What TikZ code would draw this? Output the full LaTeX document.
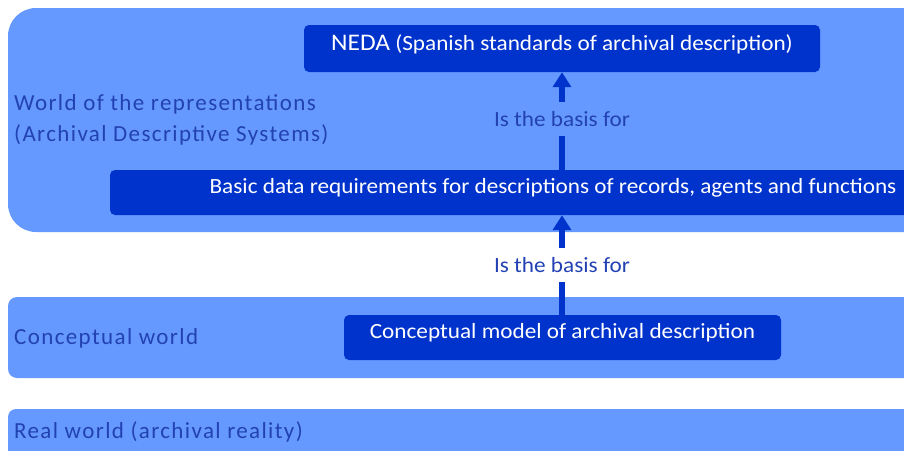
\documentclass[tikz,border=0pt]{standalone}
\usepackage{fontspec}
\setmainfont{Carlito}
\newfontfamily\boxfont[FakeStretch=1.07]{Carlito}
\newfontfamily\sidefont[LetterSpace=6]{Carlito}
\usetikzlibrary{arrows.meta}
\definecolor{bandblue}{HTML}{6699FF}
\definecolor{boxblue}{HTML}{0033CC}
\definecolor{labelblue}{HTML}{2242B4}
\tikzset{
  band/.style={fill=bandblue},
  levelbox/.style={fill=boxblue, text=white, rounded corners=5pt, inner sep=0pt,
    text height=14pt, text depth=0pt,
    font=\boxfont\fontsize{21.7}{24}\selectfont},
  worldlabel/.style={anchor=west, align=left, text=labelblue, inner sep=0pt,
    font=\sidefont\fontsize{23}{31.5}\selectfont},
  relation/.style={text=labelblue, inner sep=0pt, minimum height=34pt,
    text height=14pt, text depth=0pt,
    font=\boxfont\fontsize{21.7}{24}\selectfont},
  link/.style={draw=boxblue, line width=6pt},
  linktip/.style={link, -{Triangle[width=18pt, length=15pt]}}
}
\begin{document}
\begin{tikzpicture}[x=1pt, y=-1pt]
  \useasboundingbox (0,0) rectangle (904,450);
  \clip (0,0) rectangle (904,450);

  % three worlds, from top to bottom
  \fill[band, rounded corners=28pt] (8,8) rectangle (1000,232);
  \fill[band, rounded corners=9pt] (8,297) rectangle (1000,378);
  \fill[band, rounded corners=8pt] (8,409) rectangle (1000,480);

  \node[worldlabel] (wrep) at (14,120)
    {World of the representations\\(Archival Descriptive Systems)};
  \node[worldlabel] (wcon) at (14,338) {Conceptual world};
  \node[worldlabel] (wreal) at (14,432) {Real world (archival reality)};

  % descriptive levels
  \node[levelbox, minimum width=516pt, minimum height=47pt] (neda) at (562,48.5)
    {\raisebox{4.8pt}{{\fontsize{23.8}{26}\selectfont NEDA} (Spanish standards of archival description)}};
  \node[levelbox, minimum width=886pt, minimum height=45pt] (basic) at (553,192.5)
    {\raisebox{6.5pt}{Basic data requirements for descriptions of records, agents and functions}};
  \node[levelbox, minimum width=437pt, minimum height=45pt] (model) at (562.5,337.5)
    {\raisebox{6.5pt}{Conceptual model of archival description}};

  % relations
  \node[relation] (rel1) at (562,119) {Is the basis for};
  \node[relation] (rel2) at (562,265) {Is the basis for};

  \draw[link] (rel1 |- basic.north) -- (rel1.south);
  \draw[linktip] (rel1.north) -- (rel1 |- neda.south);
  \draw[link] (rel2 |- model.north) -- (rel2.south);
  \draw[linktip] (rel2.north) -- (rel2 |- basic.south);
\end{tikzpicture}
\end{document}
